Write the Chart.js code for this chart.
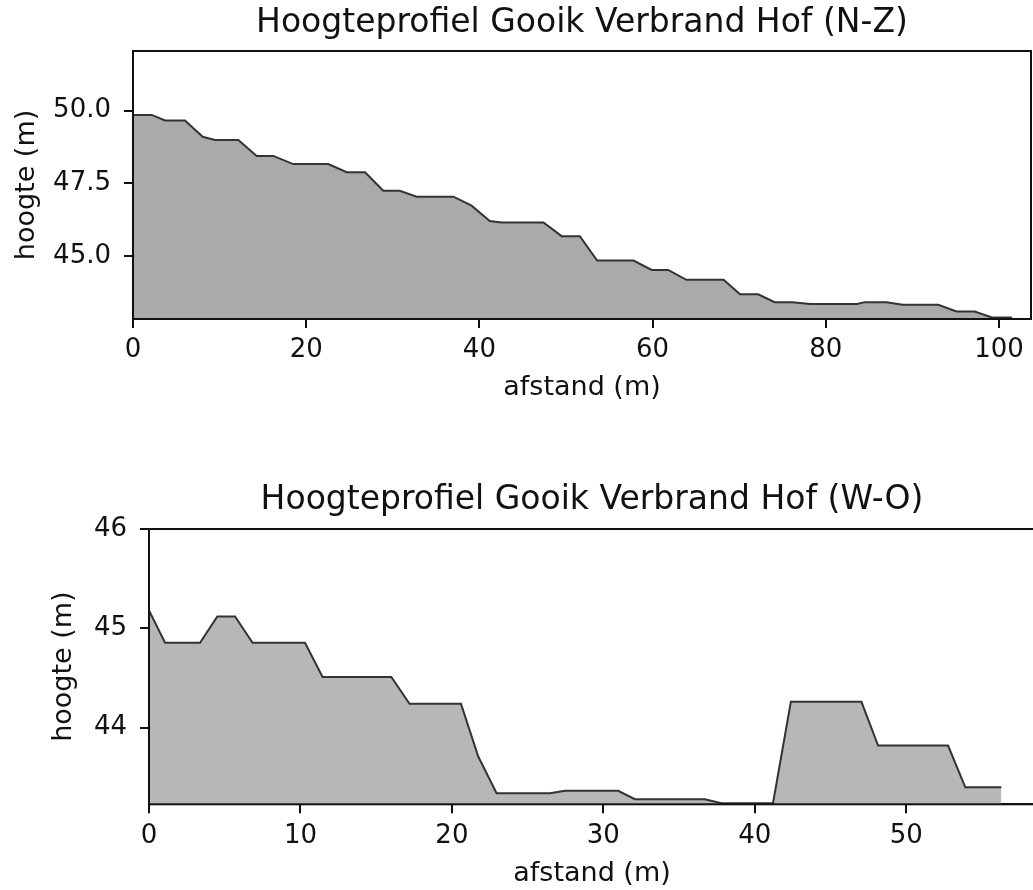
<!DOCTYPE html>
<html><head><meta charset="utf-8">
<script src="https://cdn.jsdelivr.net/npm/chart.js@4/dist/chart.umd.min.js"></script>
<style>
html,body{margin:0;padding:0;background:#fff;overflow:hidden;width:1033px;height:890px;}
canvas{position:absolute;left:0;}
#c1{top:0}
#c2{top:445px}
</style></head><body>
<canvas id="c1" width="1033" height="445"></canvas>
<canvas id="c2" width="1040" height="445"></canvas>
<script>
// ---- data: N-Z profile ----
const nzDistance = [0, 2.16, 3.7, 6.0, 8.05, 9.47, 12.16, 14.28, 16.2, 18.5, 22.55, 24.67, 26.8, 28.9, 30.8, 32.76, 37.0, 39.1, 41.2, 42.6, 47.4, 49.5, 51.6, 53.6, 57.8, 59.9, 61.8, 63.9, 68.2, 70.1, 72.2, 74.1, 76.1, 78.2, 83.6, 84.5, 87.0, 88.9, 93.0, 95.1, 97.2, 99.2, 101.5];
const nzHeight   = [49.85, 49.85, 49.66, 49.66, 49.1, 48.99, 48.99, 48.44, 48.44, 48.16, 48.16, 47.88, 47.88, 47.24, 47.24, 47.04, 47.04, 46.73, 46.2, 46.15, 46.15, 45.68, 45.68, 44.84, 44.84, 44.52, 44.52, 44.18, 44.18, 43.68, 43.68, 43.41, 43.41, 43.35, 43.35, 43.41, 43.41, 43.32, 43.32, 43.09, 43.09, 42.88, 42.88];
const nzXTicks = [0, 20, 40, 60, 80, 100];
const nzYTicks = [45.0, 47.5, 50.0];
// ---- data: W-O profile ----
const woDistance = [0, 1.06, 3.37, 4.51, 5.68, 6.84, 10.3, 11.46, 16.0, 17.2, 20.6, 21.74, 22.95, 26.47, 27.46, 30.98, 32.08, 36.7, 37.8, 41.2, 42.38, 47.04, 48.14, 52.76, 53.9, 56.28];
const woHeight   = [45.18, 44.855, 44.855, 45.12, 45.12, 44.855, 44.855, 44.51, 44.51, 44.24, 44.24, 43.71, 43.34, 43.34, 43.365, 43.365, 43.28, 43.28, 43.24, 43.24, 44.26, 44.26, 43.82, 43.82, 43.40, 43.40];
const woXTicks = [0, 10, 20, 30, 40, 50];
const woYTicks = [44, 45, 46];

const titleNZ = 'Hoogteprofiel Gooik Verbrand Hof (N-Z)';
const titleWO = 'Hoogteprofiel Gooik Verbrand Hof (W-O)';
const xLabel = 'afstand (m)';
const yLabel = 'hoogte (m)';

Chart.defaults.font.family = "'DejaVu Sans', sans-serif";
Chart.defaults.color = '#111';

const framePlugin = {
  id: 'frame',
  afterDatasetsDraw(chart) {
    const {ctx, chartArea: a} = chart;
    ctx.save();
    ctx.strokeStyle = '#111';
    ctx.lineWidth = 2;
    ctx.strokeRect(a.left, a.top, a.right - a.left, a.bottom - a.top);
    ctx.restore();
  }
};

function makeChart(id, o) {
  return new Chart(document.getElementById(id), {
    type: 'line',
    data: {
      datasets: [{
        data: o.dist.map((x, i) => ({x: x, y: o.h[i]})),
        fill: 'start',
        backgroundColor: o.fill,
        borderColor: '#333',
        borderWidth: 2,
        pointRadius: 0,
        tension: 0
      }]
    },
    options: {
      responsive: false,
      animation: false,
      devicePixelRatio: 1,
      layout: {padding: {left: 0, right: o.padRight, top: 0, bottom: 0}},
      plugins: {
        legend: {display: false},
        tooltip: {enabled: false},
        title: {
          display: true, text: o.title, fullSize: false,
          font: {size: 33, weight: 'normal'}, color: '#111',
          padding: {top: o.tTop, bottom: o.tBottom}
        }
      },
      scales: {
        x: {
          type: 'linear', min: o.xMin, max: o.xMax,
          afterBuildTicks: s => { s.ticks = o.xTicks.map(v => ({value: v})); },
          afterFit: s => { s.height = o.xHeight; },
          ticks: {font: {size: 26}, padding: o.xTickPad, maxRotation: 0, autoSkip: false, color: '#111',
                  callback: v => String(v)},
          grid: {drawOnChartArea: false, tickLength: 9, color: '#111', lineWidth: 2},
          border: {color: '#111', width: 2},
          title: {display: true, text: xLabel, font: {size: 27}, color: '#111', padding: {top: 0, bottom: o.xTitlePad}}
        },
        y: {
          type: 'linear', min: o.yMin, max: o.yMax,
          afterBuildTicks: s => { s.ticks = o.yTicks.map(v => ({value: v})); },
          afterFit: s => { s.width = o.yWidth; },
          ticks: {font: {size: 26}, padding: 13, autoSkip: false, color: '#111',
                  callback: o.yFmt},
          grid: {drawOnChartArea: false, tickLength: 9, color: '#111', lineWidth: 2},
          border: {color: '#111', width: 2},
          title: {display: true, text: yLabel, font: {size: 27}, color: '#111', padding: {top: o.yTitlePad, bottom: 0}}
        }
      }
    },
    plugins: [framePlugin]
  });
}

makeChart('c1', {
  dist: nzDistance, h: nzHeight, fill: '#aaaaaa', title: titleNZ,
  xMin: 0, xMax: 103.7, yMin: 42.83, yMax: 52.05,
  xTicks: nzXTicks, yTicks: nzYTicks,
  yFmt: v => Number(v).toFixed(1),
  padRight: 2, tTop: 3.8, tBottom: 7.6,
  xHeight: 126, xTickPad: 6.7, xTitlePad: 40.8,
  yWidth: 133, yTitlePad: 11
});

makeChart('c2', {
  dist: woDistance, h: woHeight, fill: '#b7b7b7', title: titleWO,
  xMin: 0, xMax: 58.5, yMin: 43.229, yMax: 46,
  xTicks: woXTicks, yTicks: woYTicks,
  yFmt: v => String(v),
  padRight: 5, tTop: 35.8, tBottom: 8.6,
  xHeight: 85.7, xTickPad: 7.1, xTitlePad: 0,
  yWidth: 149, yTitlePad: 47.5
});
</script>
</body></html>
